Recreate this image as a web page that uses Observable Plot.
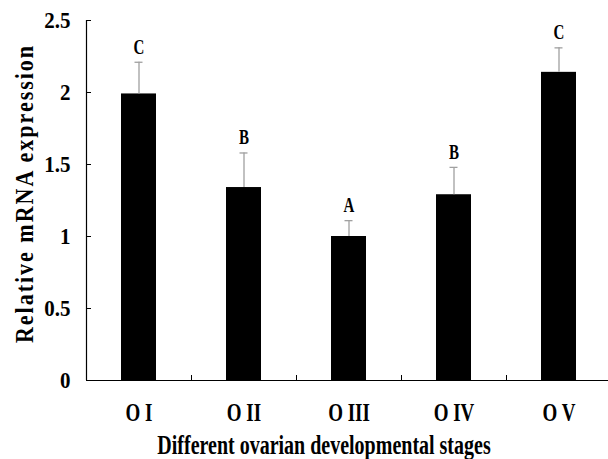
<!DOCTYPE html>
<html><head><meta charset="utf-8">
<script src="https://cdn.jsdelivr.net/npm/d3@7"></script>
<script src="https://cdn.jsdelivr.net/npm/@observablehq/plot@0.6"></script>
<style>html,body{margin:0;padding:0;background:#fff;overflow:hidden;width:608px;height:459px}</style>
</head><body><div id="chart"></div>
<script>
const stages = ["O I", "O II", "O III", "O IV", "O V"];
const means = [1.99, 1.34, 1.00, 1.29, 2.14];
const errors = [0.22, 0.24, 0.11, 0.19, 0.17];
const letters = ["C", "B", "A", "B", "C"];
const yTicks = [0, 0.5, 1, 1.5, 2, 2.5];
const yTickLabels = ["0", "0.5", "1", "1.5", "2", "2.5"];
const xTitle = "Different ovarian developmental stages";
const yTitle = "Relative mRNA expression";

const data = stages.map((s, i) => ({stage: s, mean: means[i], upper: means[i] + errors[i], letter: letters[i]}));

const W = 611, H = 459, mL = 86, mR = 0, mT = 20, mB = 79;
const step = (W - mL - mR) / stages.length;
const plotH = H - mT - mB;
const font = "'Liberation Serif','Times New Roman',serif";

const chart = Plot.plot({
  width: W, height: H, marginLeft: mL, marginRight: mR, marginTop: mT, marginBottom: mB,
  style: {fontFamily: font, background: "#fff", maxWidth: "none", color: "#000"},
  x: {domain: stages, paddingInner: 2/3, paddingOuter: 1/3, label: null},
  y: {domain: [0, 2.5], label: null},
  marks: [
    Plot.barY(data, {x: "stage", y: "mean", fill: "#000"}),
    Plot.ruleX(data, {x: "stage", y1: "mean", y2: "upper", stroke: "#a0a0a0", strokeWidth: 1.3}),
    Plot.tickY(data, {x: "stage", y: "upper", stroke: "#a0a0a0", strokeWidth: 1.3, insetLeft: 13.5, insetRight: 13.5}),
    Plot.text(data, {x: "stage", y: "upper", text: "letter", dy: -15, fontSize: 15, fontWeight: "bold", fill: "#000"}),
    Plot.ruleY([0], {stroke: "#000", strokeWidth: 1.2}),
    Plot.ruleX([stages[0]], {x: d => d, dx: -step / 2, stroke: "#000", strokeWidth: 1.2}),
    Plot.tickY(yTicks, {y: d => d, insetRight: W - mL - mR - 5, stroke: "#000"}),
    Plot.tickX(stages.slice(0, -1), {x: d => d, dx: step / 2, insetTop: plotH - 5, stroke: "#000"}),
    Plot.axisY({ticks: yTicks, tickFormat: d => yTickLabels[yTicks.indexOf(d)], tickSize: 0, tickPadding: 16, fontSize: 21, fontWeight: "bold", label: null}),
    Plot.axisX({tickSize: 0, tickPadding: 22, fontSize: 19, fontWeight: "bold", label: null}),
    Plot.text([xTitle], {text: d => d, frameAnchor: "bottom", textAnchor: "middle", dx: -25, dy: 73, fontSize: 20, fontWeight: "bold", fill: "#000"}),
    Plot.text([yTitle], {text: d => d, frameAnchor: "left", textAnchor: "middle", rotate: -90, dx: -61, dy: -7, fontSize: 22, fontWeight: "bold", fill: "#000"})
  ]
});

function stretch(nodes, s) {
  nodes.forEach(t => {
    const tr = t.getAttribute("transform");
    if (tr) t.setAttribute("transform", tr + ` scale(1,${s})`);
    else {
      const x = +t.getAttribute("x") || 0, y = +t.getAttribute("y") || 0;
      t.setAttribute("transform", `translate(${x},${y}) scale(1,${s}) translate(${-x},${-y})`);
    }
  });
}
const textGroups = chart.querySelectorAll('g[aria-label="text"]');
const [gLetters, gXTitle, gYTitle] = textGroups;
stretch(gLetters.querySelectorAll("text"), 1.35);
stretch(chart.querySelectorAll('g[aria-label="x-axis tick label"] text'), 1.35);
stretch(chart.querySelectorAll('g[aria-label="y-axis tick label"] text'), 1.08);
stretch(gXTitle.querySelectorAll("text"), 1.35);
stretch(gYTitle.querySelectorAll("text"), 1.1);
gYTitle.querySelectorAll("text").forEach(t => t.style.letterSpacing = "2px");
document.getElementById("chart").appendChild(chart);
</script>
</body></html>
